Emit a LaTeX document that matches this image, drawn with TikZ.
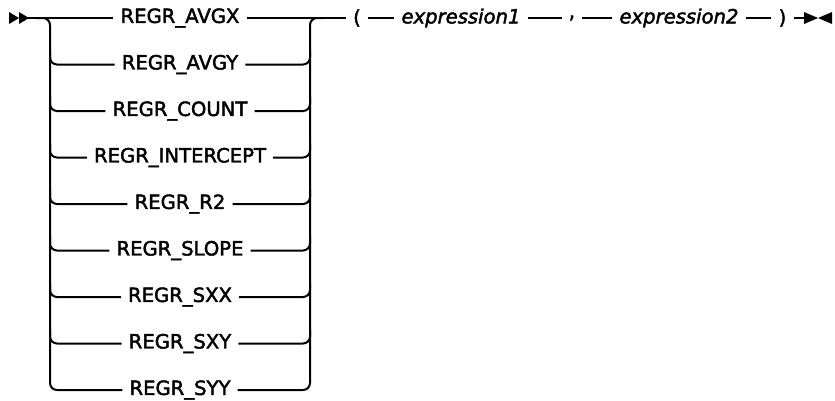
\documentclass[tikz,border=0pt]{standalone}
\usepackage{fontspec}
\setmainfont{DejaVu Sans}[RawFeature={embolden=2.2}]
\begin{document}
\begin{tikzpicture}[x=1pt,y=-1pt,
  rail/.style={line width=2pt,line cap=butt},
  railbend/.style={rail,rounded corners=7pt},
  kw/.style={inner xsep=7pt,inner ysep=0pt,font=\fontsize{19.6}{21}\selectfont},
  var/.style={kw,font=\fontsize{19.6}{21}\selectfont\itshape},
  tip/.style={fill=black,draw=none}]
\useasboundingbox (0,0) rectangle (835,400);
% rows
\foreach \n/\t [count=\i from 0] in {l0/REGR\_AVGX,l1/REGR\_AVGY,l2/REGR\_COUNT,l3/REGR\_INTERCEPT,l4/REGR\_R2,l5/REGR\_SLOPE,l6/REGR\_SXX,l7/REGR\_SXY,l8/REGR\_SYY}
  \node[kw] (\n) at (180,{18+46.5*\i}) {\t};
% start symbol
\fill[tip] (9,12) -- (19,18) -- (9,24) -- cycle;
\fill[tip] (19,12) -- (29,18) -- (19,24) -- cycle;
\coordinate (start) at (28,18);
% main line first row
\draw[rail] (start) -- (l0.west);
% left bar
\draw[railbend] (36,18) -| (50,390) -- (l8.west);
% right bar
\draw[railbend] (l8.east) -| (310,18) -- (324,18);
% branches
\foreach \n [count=\i from 1] in {l1,l2,l3,l4,l5,l6,l7}{
  \draw[railbend] (50,{18+46.5*\i-14}) |- (\n.west);
  \draw[railbend] (\n.east) -| (310,{18+46.5*\i-14});
}
% after the choice
\node[kw] (lp) at (357,18) {(};
\node[var] (e1) at (461,18) {expression1};
\node[kw] (cm) at (572,18) {,};
\node[var] (e2) at (679,18) {expression2};
\node[kw] (rp) at (782.5,18) {)};
\draw[rail] (l0.east) -- (lp.west);
\draw[rail] (lp.east) -- (e1.west);
\draw[rail] (e1.east) -- (cm.west);
\draw[rail] (cm.east) -- (e2.west);
\draw[rail] (e2.east) -- (rp.west);
\coordinate (endpt) at (808,18);
\draw[rail] (rp.east) -- (endpt);
\fill[tip] (804,12) -- (818,18) -- (804,24) -- cycle;
\fill[tip] (832,12) -- (818,18) -- (832,24) -- cycle;
\end{tikzpicture}
\end{document}
